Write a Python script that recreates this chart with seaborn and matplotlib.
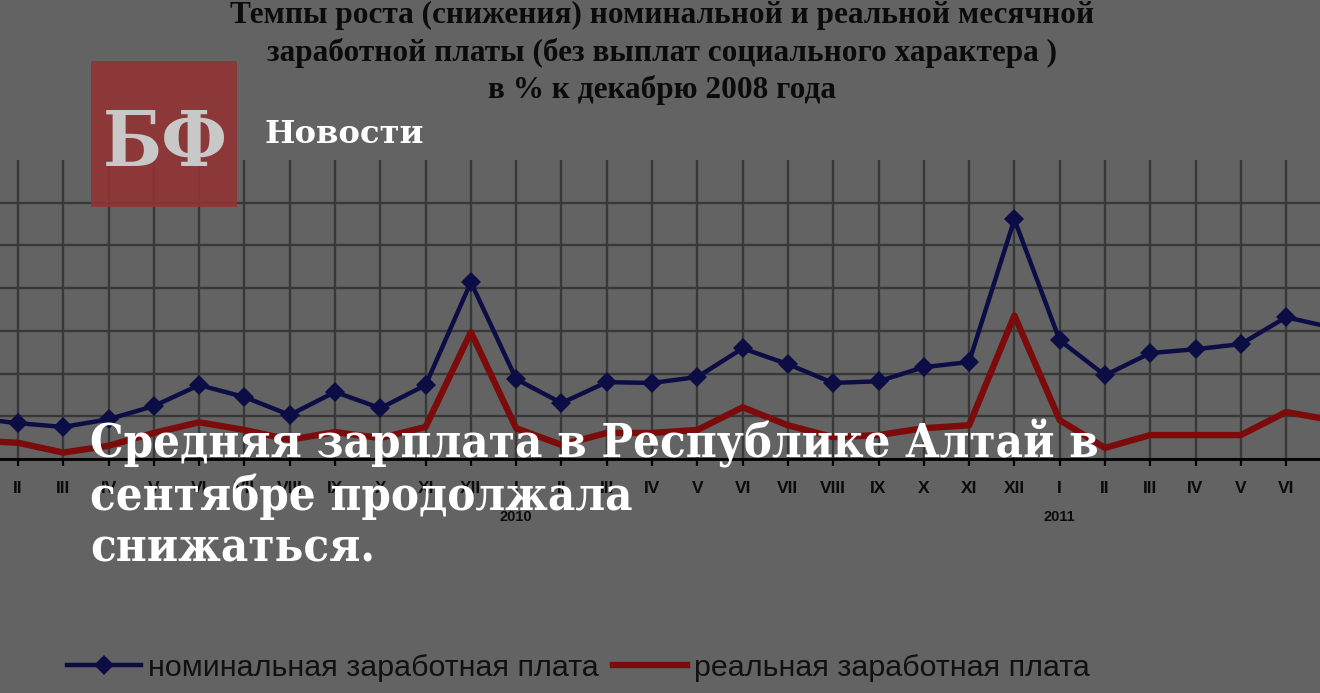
import numpy as np
import pandas as pd
import matplotlib
matplotlib.use("Agg")
import matplotlib.pyplot as plt
import seaborn as sns
from matplotlib.patches import Rectangle

# ---------------- data ----------------
months = ["I", "II", "III", "IV", "V", "VI", "VII", "VIII", "IX", "X", "XI", "XII",
          "I", "II", "III", "IV", "V", "VI", "VII", "VIII", "IX", "X", "XI", "XII",
          "I", "II", "III", "IV", "V", "VI", "VII"]
nominal = [89.6, 88.4, 87.5, 89.3, 92.4, 97.3, 94.5, 90.3, 95.7, 91.9, 97.3, 121.4,
           98.7, 93.1, 98.0, 97.8, 99.2, 105.9, 102.2, 97.8, 98.2, 101.5, 102.7, 136.1,
           107.8, 99.6, 104.8, 105.7, 106.9, 113.2, 110.8]
real = [84.3, 83.8, 81.5, 83.1, 86.1, 88.6, 86.8, 84.5, 86.3, 84.9, 87.5, 109.7,
        87.2, 83.3, 86.1, 86.1, 86.8, 92.1, 87.9, 85.1, 85.6, 87.2, 87.9, 113.6,
        89.1, 82.6, 85.6, 85.6, 85.6, 91.0, 89.1]
year_labels = ["2010", "2011"]
year_index = [12, 24]
series_names = ["номинальная заработная плата", "реальная заработная плата"]
title_lines = ["Темпы роста (снижения) номинальной и реальной месячной",
               "заработной платы (без выплат социального характера )",
               "в % к декабрю 2008 года"]
headline = ["Средняя зарплата в Республике Алтай в",
            "сентябре продолжала",
            "снижаться."]

# ---------------- style ----------------
W, H = 1320, 693
BG = "#636363"
GRID = "#383838"
BLUE = "#0c0d45"
RED = "#7c0b0b"
DARK = "#0b0b0b"

fig = plt.figure(figsize=(W / 100, H / 100), dpi=100, facecolor=BG)
renderer = fig.canvas.get_renderer()


def text_width(s, size, **kw):
    t = fig.text(0, 0, s, fontsize=size, **kw)
    w = t.get_window_extent(renderer).width
    t.remove()
    return w


def fx(px):
    return px / W


def fy(py):
    return 1 - py / H


ax = fig.add_axes([0, fy(459), 1, (459 - 160) / H])
ax.set_facecolor(BG)

df = pd.DataFrame({"idx": np.arange(len(months)), "nom": nominal, "real": real})
sns.lineplot(data=df, x="idx", y="real", ax=ax, color=RED, linewidth=4.6,
             label=series_names[1], zorder=3)
sns.lineplot(data=df, x="idx", y="nom", ax=ax, color=BLUE, linewidth=3.2,
             marker="D", markersize=10.5, markeredgewidth=0,
             label=series_names[0], zorder=4)

ax.set_yticks(np.arange(80, 141, 10))
ax.set_xticks(df["idx"])
ax.set_xticklabels(months, family="Liberation Sans", weight="bold")
ax.set_xlim(1 - 18 / 45.29, 1 + 1302 / 45.29)
ax.set_ylim(80, 150)
ax.grid(True, color=GRID, linewidth=1.7)
ax.set_axisbelow(True)
for side in ["top", "left", "right"]:
    ax.spines[side].set_visible(False)
ax.spines["bottom"].set_color("black")
ax.spines["bottom"].set_linewidth(2)
ax.spines["bottom"].set_zorder(5)
ax.tick_params(axis="x", length=5, width=1.6, color="black", pad=11,
               labelsize=12.5, labelcolor=DARK)
ax.tick_params(axis="y", length=0, labelleft=False)
ax.set_xlabel("")
ax.set_ylabel("")

for lab, pos in zip(year_labels, year_index):
    ax.text(pos, -(517 - 459) / 299, lab, transform=ax.get_xaxis_transform(),
            ha="center", va="center", fontsize=10.5, weight="bold",
            family="Liberation Sans", color=DARK)

# legend
leg_size = 20 * 449 / text_width(series_names[0], 20, family="Liberation Sans")
fs_px = leg_size * 100 / 72
handles, labels = ax.get_legend_handles_labels()
order = [labels.index(series_names[0]), labels.index(series_names[1])]
leg = ax.legend([handles[i] for i in order], [labels[i] for i in order],
                loc="center left", bbox_to_anchor=(fx(67), fy(668)),
                bbox_transform=fig.transFigure, ncol=2, frameon=False,
                borderpad=0, borderaxespad=0, handlelength=74 / fs_px,
                handletextpad=7 / fs_px, columnspacing=14 / fs_px,
                prop={"family": "Liberation Sans", "size": leg_size})
for t in leg.get_texts():
    t.set_color("#111111")

# title of embedded chart
tsize = 20 * 861 / text_width(title_lines[0], 20, family="Liberation Serif", weight="bold")
for line, base in zip(title_lines, [23, 61, 98]):
    fig.text(fx(662), fy(base), line, ha="center", va="baseline", fontsize=tsize,
             family="Liberation Serif", weight="bold", color=DARK)

# logo
fig.patches.append(Rectangle((fx(91), fy(207)), 146 / W, 146 / H,
                             transform=fig.transFigure, facecolor=(0.58, 0.2, 0.2),
                             alpha=0.88, edgecolor="none", zorder=5))
logo_kw = dict(family="DejaVu Serif", weight="bold", stretch="condensed")
lsize = 60 * 125 / text_width("БФ", 60, **logo_kw)
fig.text(fx(165), fy(166), "БФ", ha="center", va="baseline", fontsize=lsize,
         color="#c8c8c8", zorder=6, **logo_kw)

nsize = 24 * 160 / text_width("Новости", 24, family="DejaVu Serif", weight="bold")
fig.text(fx(265), fy(143), "Новости", ha="left", va="baseline", fontsize=nsize,
         family="DejaVu Serif", weight="bold", color="white", zorder=6)

# headline
head_kw = dict(family="DejaVu Serif", weight="bold", stretch="condensed")
hsize = 34 * 1007 / text_width(headline[0], 34, **head_kw)
for line, base in zip(headline, [457, 509.5, 562]):
    fig.text(fx(90), fy(base), line, ha="left", va="baseline", fontsize=hsize,
             color="white", zorder=10, **head_kw)

fig.savefig("out.png", dpi=100, facecolor=BG)
